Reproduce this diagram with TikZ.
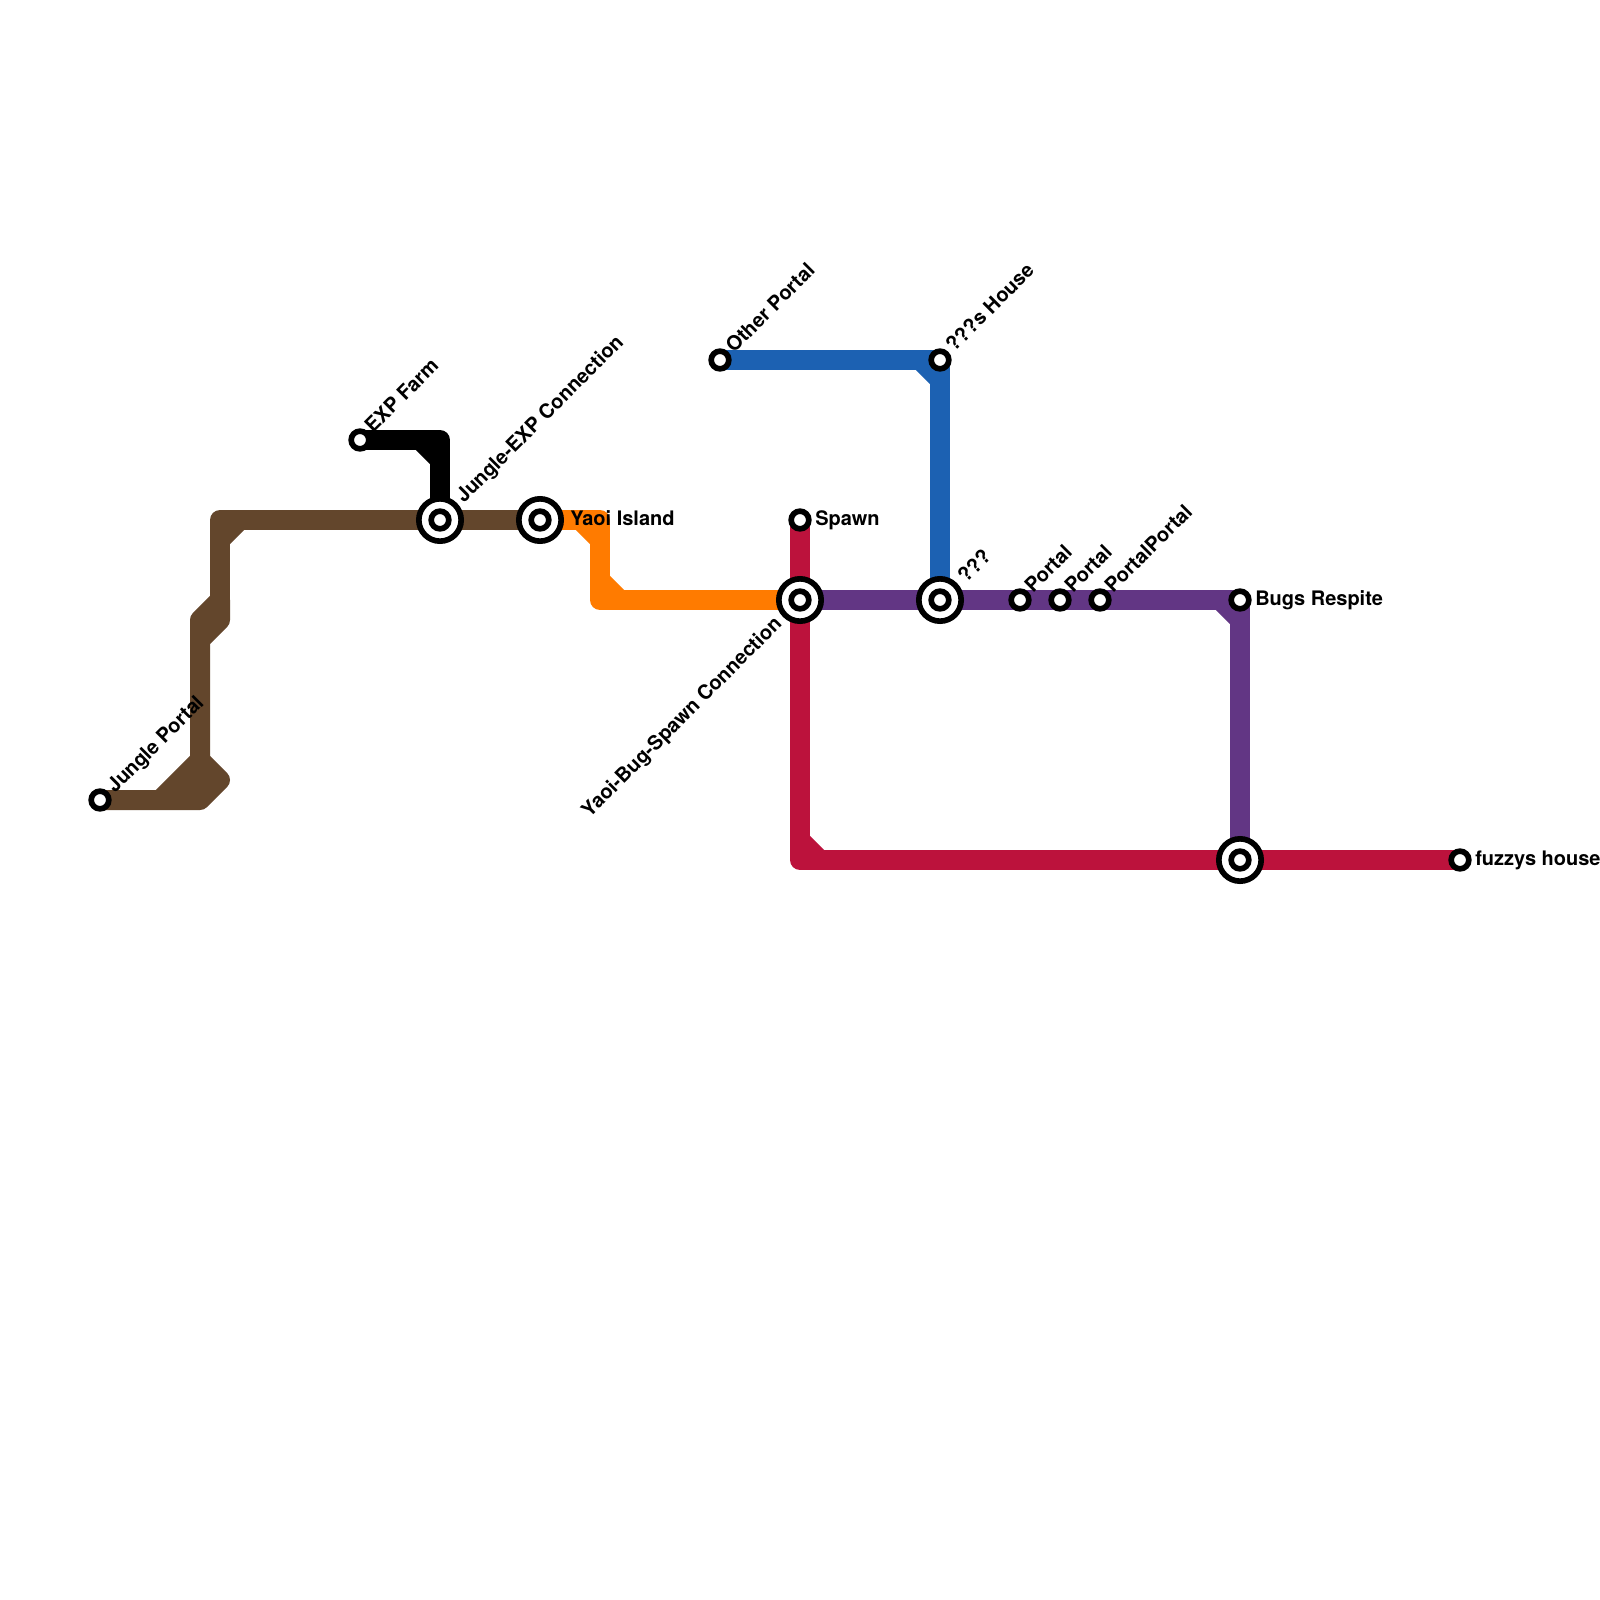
\documentclass[tikz,border=0pt]{standalone}
\usepackage{fontspec}
\setmainfont{TeX Gyre Heros}
\usetikzlibrary{backgrounds}
\definecolor{brownline}{RGB}{99,70,44}
\definecolor{orangeline}{RGB}{255,123,0}
\definecolor{blueline}{RGB}{28,97,178}
\definecolor{redline}{RGB}{188,18,60}
\definecolor{purpleline}{RGB}{98,54,132}
\begin{document}
\begin{tikzpicture}[
    x=0.75pt, y=-0.75pt,
    track/.style={line width=15pt, line join=round},
    stop/.style={circle, draw=black, line width=4.25pt, fill=white, inner sep=0pt, minimum size=13.25pt},
    hub/.style={stop, minimum size=31.75pt},
    tag/.style={font=\bfseries\fontsize{15}{18}\selectfont, inner sep=0pt},
    tilt/.style={tag, rotate=45, anchor=base west}]
  \useasboundingbox (0,0) rectangle (1600,1600);
  % large stops
  \node[hub] (jx) at (440,520) {};
  \node[stop] (jxd) at (jx) {};
  \node[hub] (yi) at (540,520) {};
  \node[stop] (yid) at (yi) {};
  \node[hub] (ys) at (800,600) {};
  \node[stop] (ysd) at (ys) {};
  \node[hub] (qq) at (940,600) {};
  \node[stop] (qqd) at (qq) {};
  \node[hub] (bf) at (1240,860) {};
  \node[stop] (bfd) at (bf) {};
  % small stops
  \node[stop] (jp) at (100,800) {};
  \node[stop] (ef) at (360,440) {};
  \node[stop] (op) at (720,360) {};
  \node[stop] (qh) at (940,360) {};
  \node[stop] (sp) at (800,520) {};
  \node[stop] (p1) at (1020,600) {};
  \node[stop] (p2) at (1060,600) {};
  \node[stop] (p3) at (1100,600) {};
  \node[stop] (br) at (1240,600) {};
  \node[stop] (fh) at (1460,860) {};
  % bends
  \coordinate (b1) at (160,800);
  \coordinate (b2) at (200,760);
  \coordinate (b3) at (200,800);
  \coordinate (b4) at (220,780);
  \coordinate (b5) at (200,640);
  \coordinate (b6) at (220,620);
  \coordinate (b7) at (200,620);
  \coordinate (b8) at (220,600);
  \coordinate (b9) at (220,540);
  \coordinate (b10) at (220,520);
  \coordinate (b11) at (240,520);
  \coordinate (k1) at (420,440);
  \coordinate (k2) at (440,440);
  \coordinate (k3) at (440,460);
  \coordinate (o1) at (580,520);
  \coordinate (o2) at (600,520);
  \coordinate (o3) at (600,540);
  \coordinate (o4) at (600,580);
  \coordinate (o5) at (600,600);
  \coordinate (o6) at (620,600);
  \coordinate (u1) at (920,360);
  \coordinate (u2) at (940,380);
  \coordinate (v1) at (1220,600);
  \coordinate (v2) at (1240,620);
  \coordinate (r1) at (800,840);
  \coordinate (r2) at (800,860);
  \coordinate (r3) at (820,860);
  % lines go behind the stops
  \begin{scope}[on background layer]
    \draw[track, brownline] (jp.center)--(b1)--(b2)--(b4)--(b3)--(jp.center);
    \fill[brownline] (b1)--(b2)--(b4)--(b3)--cycle;
    \draw[track, brownline] (b2)--(b7)--(b8)--(b6)--(b5);
    \draw[track, brownline] (b8)--(b10)--(yi.center);
    \draw[track, brownline] (b9)--(b11);
    \draw[track, black] (ef.center)--(k2)--(jx.center);
    \draw[track, black] (k1)--(k3);
    \draw[track, orangeline] (yi.center)--(o2)--(o5)--(ys.center);
    \draw[track, orangeline] (o1)--(o3);
    \draw[track, orangeline] (o4)--(o6);
    \draw[track, blueline] (op.center)--(qh.center)--(qq.center);
    \draw[track, blueline] (u1)--(u2);
    \draw[track, redline] (sp.center)--(r2)--(fh.center);
    \draw[track, redline] (r1)--(r3);
    \draw[track, purpleline] (ys.center)--(br.center)--(bf.center);
    \draw[track, purpleline] (v1)--(v2);
  \end{scope}
  % labels
  \node[tilt] (t1) at (115,794) {Jungle Portal};
  \node[tilt] (t2) at (373,434) {EXP Farm};
  \node[tilt] (t3) at (464,504) {Jungle-EXP Connection};
  \node[tilt] (t4) at (734,354) {Other Portal};
  \node[tilt] (t5) at (954,353) {???s House};
  \node[tilt] (t6) at (966,584) {???};
  \node[tilt] (t7) at (1033,594) {Portal};
  \node[tilt] (t8) at (1073,594) {Portal};
  \node[tilt] (t9) at (1113,594) {PortalPortal};
  \node[tag, rotate=45, anchor=base east] (t10) at (783,625) {Yaoi-Bug-Spawn Connection};
  \node[tag, anchor=base west] (t11) at (570,525) {Yaoi Island};
  \node[tag, anchor=base west] (t12) at (815,525) {Spawn};
  \node[tag, anchor=base west] (t13) at (1255,605) {Bugs Respite};
  \node[tag, anchor=base west] (t14) at (1475,865) {fuzzys house};
\end{tikzpicture}
\end{document}
